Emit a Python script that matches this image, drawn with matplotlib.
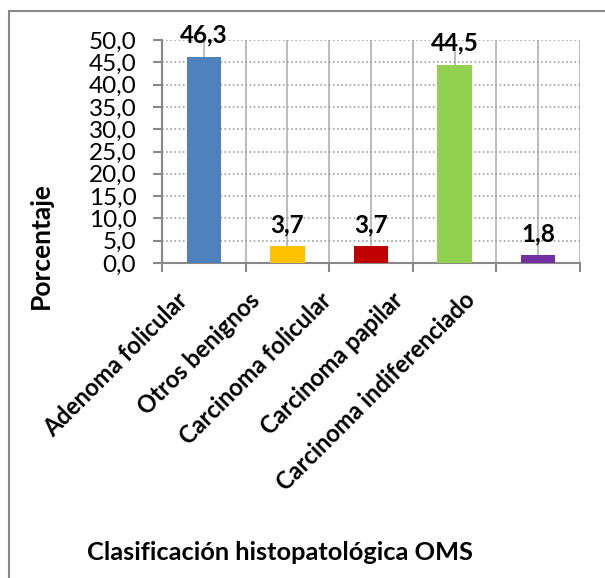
import numpy as np
import matplotlib.pyplot as plt
from matplotlib.patches import Rectangle

categorias = ["Adenoma folicular", "Otros benignos", "Carcinoma folicular",
              "Carcinoma papilar", "Carcinoma indiferenciado"]
porcentajes = [46.3, 3.7, 3.7, 44.5, 1.8]
colores = ["#4F81BD", "#FFC000", "#C00000", "#92D050", "#7030A0"]

plt.rcParams['font.family'] = ['Lato', 'DejaVu Sans']

fig = plt.figure(figsize=(6.05, 5.78), dpi=100)
ax = fig.add_axes([162 / 605, 1 - 263 / 578, (580 - 162) / 605, (263 - 40) / 578])

# borde exterior del grafico (solo izquierda y arriba visibles)
fig.patches.append(Rectangle((9 / 605, -0.1), 1.2, 1 - 11 / 578 + 0.1,
                             transform=fig.transFigure, fill=False,
                             edgecolor="#888888", linewidth=1.5))

x = np.arange(len(categorias))
ax.bar(x, porcentajes, width=0.41, color=colores, zorder=3)

for xi, v in zip(x, porcentajes):
    ax.annotate(f"{v:.1f}".replace(".", ","), (xi, v), xytext=(0, 7),
                textcoords="offset points", ha="center", va="bottom",
                fontsize=17.5, fontweight="bold", zorder=4)

ax.set_xlim(-0.5, len(categorias) - 0.5)
ax.set_ylim(0, 50)
ax.set_yticks(np.arange(0, 51, 5))
ax.set_yticklabels([f"{t:.1f}".replace(".", ",") for t in np.arange(0, 51, 5)],
                   fontsize=17.5)

# lineas verticales en centros y limites
ax.set_xticks(np.arange(-0.5, len(categorias), 1.0))
ax.set_xticklabels([])
ax.set_xticks(x, minor=True)
ax.tick_params(axis="x", which="minor", length=0)
ax.tick_params(axis="x", which="major", length=6.5, width=1.5, color="#888888")
ax.tick_params(axis="y", length=6.5, width=1.5, color="#888888", pad=12)

# etiquetas de categoria rotadas (Excel las comprime un poco)
for i, nombre in enumerate(categorias):
    ax.annotate(nombre, (-0.24 + 0.861 * i, 0), xycoords=("data", "axes fraction"),
                xytext=(0, -24), textcoords="offset points", rotation=45,
                ha="right", va="center", rotation_mode="anchor",
                fontsize=17, fontweight="bold", annotation_clip=False)

ax.grid(axis="y", linestyle=(0, (1, 1.5)), color="#A0A0A0", linewidth=1.2, zorder=0)
ax.grid(axis="x", which="both", color="#BEBEBE", linewidth=1.5, zorder=0)

for s in ["top", "right"]:
    ax.spines[s].set_visible(False)
ax.spines["left"].set_color("#888888")
ax.spines["bottom"].set_color("#888888")
ax.spines["left"].set_linewidth(1.5)
ax.spines["bottom"].set_linewidth(1.5)
ax.axvline(len(categorias) - 0.5, color="#BEBEBE", linewidth=2, zorder=1)

fig.text(41 / 605, 1 - 246 / 578, "Porcentaje", rotation=90, ha="center",
         va="center", fontsize=19, fontweight="bold")
fig.text(280 / 605, 1 - 552 / 578, "Clasificación histopatológica OMS",
         ha="center", va="center", fontsize=18.3, fontweight="bold")

fig.savefig("out.png", dpi=100)
